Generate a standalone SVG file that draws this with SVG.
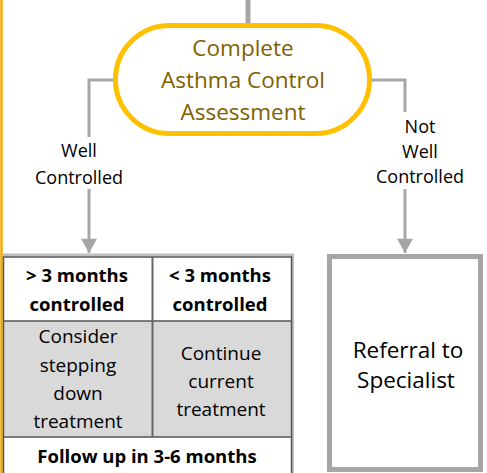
<svg xmlns="http://www.w3.org/2000/svg" width="487" height="473" viewBox="0 0 487 473">
<style>
.conn{fill:none;stroke:#A6A6A6;stroke-width:3}
.lbl{font-family:"Open Sans","Noto Sans",sans-serif;font-size:18px;fill:#000;text-anchor:middle}
.hd{font-family:"Open Sans","Noto Sans",sans-serif;font-size:18.5px;font-weight:700;fill:#000;text-anchor:middle}
.cell{font-family:"Open Sans","Noto Sans",sans-serif;font-size:19px;fill:#000;text-anchor:middle}
.big{font-family:"Open Sans","Noto Sans",sans-serif;font-size:22.5px;text-anchor:middle}
.grid{stroke:#555;stroke-width:1.5;fill:none}
</style>
<defs>
<marker id="arr" markerUnits="userSpaceOnUse" markerWidth="18" markerHeight="16" refX="16" refY="9" orient="auto" viewBox="0 0 16 18">
<path d="M0,0 L16,9 L0,18 Z" fill="#A6A6A6"/>
</marker>
</defs>
<rect width="487" height="473" fill="#fff"/>
<line x1="1.5" y1="0" x2="1.5" y2="473" stroke="#F5A800" stroke-width="2.5"/>
<g id="connectors">
<line x1="248" y1="0" x2="248" y2="24" stroke="#A6A6A6" stroke-width="5"/>
<polyline class="conn" points="114,80 89,80 89,137"/>
<line class="conn" x1="89" y1="189" x2="89" y2="253" marker-end="url(#arr)"/>
<polyline class="conn" points="371,80 405,80 405,112"/>
<line class="conn" x1="405" y1="189" x2="405" y2="253" marker-end="url(#arr)"/>
<text class="lbl" x="79" y="157">Well</text>
<text class="lbl" x="79" y="184">Controlled</text>
<text class="lbl" x="420" y="133">Not</text>
<text class="lbl" x="420" y="158">Well</text>
<text class="lbl" x="420" y="183">Controlled</text>
</g>
<g id="assessment">
<rect x="115.5" y="25.5" width="254" height="108" rx="54" ry="54" fill="#fff" stroke="#FFC000" stroke-width="5"/>
<text class="big" x="243" y="56" fill="#7F6000">Complete</text>
<text class="big" x="243" y="88" fill="#7F6000">Asthma Control</text>
<text class="big" x="243" y="120" fill="#7F6000">Assessment</text>
</g>
<g id="table">
<rect x="3.5" y="321" width="288" height="116" fill="#D9D9D9"/>
<line x1="3" y1="255" x2="294" y2="255" stroke="#BFBFBF" stroke-width="3"/>
<line x1="292.5" y1="255" x2="292.5" y2="473" stroke="#BFBFBF" stroke-width="3"/>
<rect class="grid" x="3.5" y="257" width="288" height="220"/>
<line class="grid" x1="3.5" y1="321" x2="291.5" y2="321"/>
<line class="grid" x1="3.5" y1="437" x2="291.5" y2="437"/>
<line x1="152.5" y1="257" x2="152.5" y2="437" stroke="#666" stroke-width="2"/>
<text class="hd" x="77" y="282">&gt; 3 months</text>
<text class="hd" x="77" y="311">controlled</text>
<text class="hd" x="220" y="282">&lt; 3 months</text>
<text class="hd" x="220" y="311">controlled</text>
<text class="cell" x="78" y="343">Consider</text>
<text class="cell" x="78" y="372">stepping</text>
<text class="cell" x="78" y="400">down</text>
<text class="cell" x="78" y="428">treatment</text>
<text class="cell" x="221" y="360">Continue</text>
<text class="cell" x="221" y="388">current</text>
<text class="cell" x="221" y="416">treatment</text>
<text class="hd" x="147" y="463">Follow up in 3-6 months</text>
</g>
<g id="referral">
<rect x="329.5" y="256.5" width="151" height="213" fill="#fff" stroke="#A6A6A6" stroke-width="5"/>
<text class="big" x="408" y="358" fill="#000">Referral to</text>
<text class="big" x="406" y="388" fill="#000">Specialist</text>
</g>
</svg>
